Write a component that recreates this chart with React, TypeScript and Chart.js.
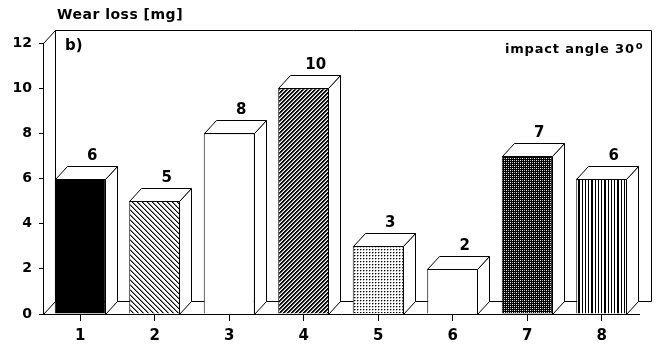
import React, { useEffect, useRef } from 'react';
import { Chart, registerables } from 'chart.js';

Chart.register(...registerables);

// ---- data ----
const categories = ['1', '2', '3', '4', '5', '6', '7', '8'];
const wearLoss = [6, 5, 8, 10, 3, 2, 7, 6];
const yMin = 0;
const yMax = 12;
const yStep = 2;
const yAxisTitle = 'Wear loss [mg]';
const panelLabel = 'b)';
const noteText = 'impact angle 30';
const noteSup = 'o';

// ---- styles (per bar fill pattern) ----
const barFills = ['solid', 'hatchBack', 'white', 'hatchFwd', 'dots', 'white', 'checker', 'vlines'];

const FONT = '"DejaVu Sans", "Liberation Sans", sans-serif';
const DX = 12;
const DY = 13;

function makeFill(kind: string, ctx: CanvasRenderingContext2D): string | CanvasPattern {
  if (kind === 'solid') return '#000';
  if (kind === 'white') return '#fff';
  const c = document.createElement('canvas');
  let w = 4;
  let h = 4;
  if (kind === 'hatchBack') { w = 5; h = 5; }
  if (kind === 'dots') { w = 3; h = 3; }
  if (kind === 'vlines') { w = 26; h = 4; }
  c.width = w;
  c.height = h;
  const g = c.getContext('2d') as CanvasRenderingContext2D;
  const px = (x: number, y: number, col: string) => { g.fillStyle = col; g.fillRect(x, y, 1, 1); };
  g.fillStyle = '#fff';
  g.fillRect(0, 0, w, h);
  if (kind === 'hatchBack') {
    for (let i = 0; i < 5; i++) { px(i, i, '#000'); px((i + 1) % 5, i, '#888'); }
  } else if (kind === 'hatchFwd') {
    for (let i = 0; i < 4; i++) { px(i, 3 - i, '#000'); px((i + 1) % 4, 3 - i, '#111'); px((i + 2) % 4, 3 - i, '#999'); }
  } else if (kind === 'dots') {
    px(0, 0, '#000'); px(1, 0, '#999'); px(0, 1, '#aaa');
  } else if (kind === 'checker') {
    g.fillStyle = '#000'; g.fillRect(0, 0, w, h);
    px(0, 0, '#fff'); px(2, 2, '#fff'); px(2, 0, '#aaa'); px(0, 2, '#aaa');
  } else if (kind === 'vlines') {
    const cols = [0, 3, 6, 7, 10, 13, 16, 19, 20, 23];
    g.fillStyle = '#000';
    cols.forEach((x) => g.fillRect(x, 0, 1, h));
  }
  return ctx.createPattern(c, 'repeat') as CanvasPattern;
}

const decorPlugin = {
  id: 'decor3d',
  beforeDatasetsDraw(chart: any) {
    const { ctx, chartArea: a, scales } = chart;
    const y0 = Math.round(scales.y.getPixelForValue(yMin)) + 0.5;
    const yT = Math.round(scales.y.getPixelForValue(yMax)) + 0.5;
    const L = Math.round(a.left) + 0.5;
    const R = Math.round(a.right) + 0.5;
    ctx.save();
    ctx.strokeStyle = '#000';
    ctx.lineWidth = 1;
    ctx.beginPath();
    ctx.moveTo(L, y0);
    ctx.lineTo(L + DX, y0 - DY);
    ctx.lineTo(R + DX, y0 - DY);
    ctx.lineTo(R + DX, yT - DY);
    ctx.lineTo(L + DX, yT - DY);
    ctx.lineTo(L + DX, y0 - DY);
    ctx.moveTo(L, yT);
    ctx.lineTo(L + DX, yT - DY);
    ctx.stroke();
    ctx.restore();
  },
  afterDatasetsDraw(chart: any) {
    const { ctx } = chart;
    const meta = chart.getDatasetMeta(0);
    ctx.save();
    ctx.strokeStyle = '#000';
    ctx.lineWidth = 1;
    ctx.fillStyle = '#fff';
    meta.data.forEach((el: any, i: number) => {
      const p = el.getProps(['x', 'y', 'base', 'width'], true);
      const xl = Math.round(p.x - p.width / 2) + 0.5;
      const xr = Math.round(p.x + p.width / 2) - 0.5;
      const yt = Math.round(p.y) + 0.5;
      const yb = Math.round(p.base) + 0.5;
      ctx.fillStyle = '#fff';
      ctx.beginPath();
      ctx.moveTo(xr, yt);
      ctx.lineTo(xr + DX, yt - DY);
      ctx.lineTo(xr + DX, yb - DY);
      ctx.lineTo(xr, yb);
      ctx.closePath();
      ctx.fill();
      ctx.stroke();
      ctx.beginPath();
      ctx.moveTo(xl, yt);
      ctx.lineTo(xl + DX, yt - DY);
      ctx.lineTo(xr + DX, yt - DY);
      ctx.lineTo(xr, yt);
      ctx.closePath();
      ctx.fill();
      ctx.stroke();
      ctx.fillStyle = '#000';
      ctx.font = `bold 15px ${FONT}`;
      ctx.textAlign = 'center';
      ctx.textBaseline = 'alphabetic';
      ctx.fillText(String(wearLoss[i]), p.x + 12, yt - DY - 7);
    });
    ctx.restore();
  },
  afterDraw(chart: any) {
    const { ctx } = chart;
    ctx.save();
    ctx.fillStyle = '#000';
    ctx.textBaseline = 'alphabetic';
    ctx.textAlign = 'left';
    ctx.font = `bold 14px ${FONT}`;
    (ctx as any).letterSpacing = '0.5px';
    ctx.fillText(yAxisTitle, 57, 19);
    (ctx as any).letterSpacing = '0px';
    ctx.font = `bold 15px ${FONT}`;
    ctx.fillText(panelLabel, 65, 50);
    ctx.font = `bold 13px ${FONT}`;
    (ctx as any).letterSpacing = '0.8px';
    const w = ctx.measureText(noteText).width;
    const x0 = 505;
    ctx.fillText(noteText, x0, 53);
    (ctx as any).letterSpacing = '0px';
    ctx.font = `bold 10px ${FONT}`;
    ctx.fillText(noteSup, x0 + w + 1, 49);
    ctx.restore();
  },
};

export default function App() {
  const ref = useRef<HTMLCanvasElement | null>(null);
  useEffect(() => {
    document.body.style.margin = '0';
    const canvas = ref.current as HTMLCanvasElement;
    const ctx = canvas.getContext('2d') as CanvasRenderingContext2D;
    Chart.defaults.font.family = FONT;
    Chart.defaults.color = '#000';
    const chart = new Chart(ctx, {
      type: 'bar',
      data: {
        labels: categories,
        datasets: [
          {
            data: wearLoss,
            backgroundColor: barFills.map((k) => makeFill(k, ctx)),
            borderColor: '#000',
            borderWidth: 1,
            barPercentage: 0.685,
            categoryPercentage: 1,
          },
        ],
      },
      options: {
        responsive: false,
        animation: false,
        devicePixelRatio: 1,
        layout: { padding: { top: 43, right: 18, left: 0, bottom: 0 } },
        plugins: { legend: { display: false }, tooltip: { enabled: false }, title: { display: false } },
        scales: {
          x: {
            offset: true,
            grid: { display: true, drawOnChartArea: false, offset: false, tickLength: 7, color: '#000' },
            border: { display: true, color: '#000', width: 1 },
            ticks: { font: { size: 15, weight: 'bold' }, padding: 6, color: '#000' },
            afterFit: (s: any) => { s.height = 32; },
          },
          y: {
            min: yMin,
            max: yMax,
            grid: { display: true, drawOnChartArea: false, tickLength: 4, color: '#000' },
            border: { display: true, color: '#000', width: 1 },
            ticks: { stepSize: yStep, font: { size: 14, weight: 'bold' }, padding: 7, color: '#000' },
            afterFit: (s: any) => { s.width = 43; },
          },
        },
      },
      plugins: [decorPlugin],
    } as any);
    return () => chart.destroy();
  }, []);
  return (
    <div style={{ width: 657, height: 346 }}>
      <canvas ref={ref} width={657} height={346} style={{ display: 'block', width: 657, height: 346 }} />
    </div>
  );
}
